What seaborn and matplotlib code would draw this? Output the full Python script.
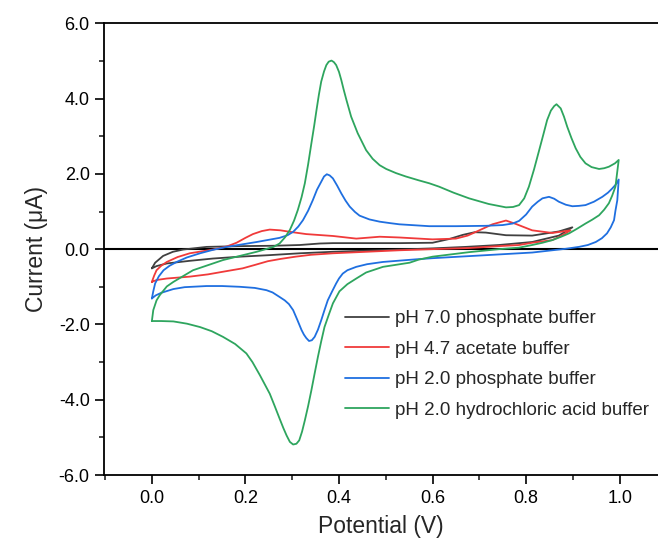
import numpy as np
import pandas as pd
import matplotlib
matplotlib.use("Agg")
import matplotlib.pyplot as plt
import seaborn as sns
from matplotlib.ticker import MultipleLocator, FormatStrFormatter

# ----------------------------------------------------------
# DATA (loop order)
# ----------------------------------------------------------
buffers = ["pH 7.0 phosphate buffer", "pH 4.7 acetate buffer",
           "pH 2.0 phosphate buffer", "pH 2.0 hydrochloric acid buffer"]
colors = ["#404040", "#f03a3a", "#1f6fe0", "#2ea55e"]

e_ph70 = [0.0, 0.007, 0.024, 0.045, 0.067, 0.117, 0.188, 0.26, 0.316, 0.359, 0.387, 0.45, 0.53,
          0.6, 0.636, 0.665, 0.69, 0.714, 0.757, 0.813, 0.87, 0.899,
          0.87, 0.813, 0.742, 0.671, 0.6, 0.529, 0.458, 0.387, 0.316, 0.25, 0.188, 0.13, 0.081,
          0.032, 0.01, 0.0]
i_ph70 = [-0.51, -0.36, -0.18, -0.07, -0.01, 0.06, 0.08, 0.09, 0.11, 0.15, 0.16, 0.16, 0.16,
          0.17, 0.27, 0.38, 0.45, 0.44, 0.37, 0.36, 0.47, 0.58,
          0.36, 0.19, 0.11, 0.06, 0.02, -0.01, -0.04, -0.07, -0.11, -0.16, -0.20, -0.25, -0.31,
          -0.38, -0.45, -0.51]

e_ph47 = [0.0, 0.005, 0.01, 0.02, 0.032, 0.055, 0.081, 0.131, 0.16, 0.181, 0.2, 0.216, 0.235,
          0.252, 0.275, 0.295, 0.33, 0.387, 0.437, 0.487, 0.529, 0.6, 0.65, 0.675, 0.693, 0.728,
          0.757, 0.778, 0.813, 0.856, 0.895,
          0.875, 0.856, 0.813, 0.785, 0.742, 0.678, 0.6, 0.529, 0.458, 0.387, 0.34, 0.307, 0.275,
          0.248, 0.22, 0.194, 0.152, 0.12, 0.081, 0.032, 0.01, 0.0]
i_ph47 = [-0.87, -0.70, -0.56, -0.44, -0.34, -0.21, -0.11, -0.01, 0.07, 0.17, 0.30, 0.40, 0.48,
          0.52, 0.50, 0.46, 0.40, 0.35, 0.28, 0.33, 0.31, 0.26, 0.28, 0.36, 0.46, 0.66,
          0.76, 0.67, 0.50, 0.43, 0.50,
          0.35, 0.24, 0.17, 0.11, 0.08, 0.03, 0.0, -0.03, -0.07, -0.11, -0.15, -0.20, -0.26,
          -0.32, -0.42, -0.51, -0.60, -0.67, -0.73, -0.78, -0.82, -0.87]

e_ph20 = [0.0, 0.003, 0.007, 0.015, 0.025, 0.038, 0.053, 0.075, 0.103, 0.13, 0.16, 0.224, 0.273,
          0.29, 0.302, 0.313, 0.323, 0.334, 0.344, 0.353, 0.362, 0.368, 0.374, 0.38, 0.387,
          0.396, 0.405, 0.414, 0.423, 0.434, 0.444, 0.465, 0.487, 0.51, 0.529, 0.593, 0.65,
          0.714, 0.75, 0.771, 0.785, 0.8, 0.813, 0.825, 0.835, 0.849, 0.86, 0.87, 0.885, 0.899,
          0.913, 0.927, 0.945, 0.963, 0.975, 0.984, 0.992, 0.998,
          0.995, 0.991, 0.988, 0.981, 0.973, 0.962, 0.949, 0.932, 0.913, 0.885, 0.856, 0.813,
          0.714, 0.671, 0.6, 0.565, 0.494, 0.46, 0.437, 0.418, 0.408, 0.4, 0.394, 0.385, 0.376,
          0.369, 0.362, 0.355, 0.348, 0.342, 0.336, 0.33, 0.325, 0.32, 0.311, 0.302, 0.293,
          0.284, 0.273, 0.258, 0.245, 0.22, 0.188, 0.15, 0.117, 0.07, 0.046, 0.02, 0.008, 0.0]
i_ph20 = [-1.31, -1.12, -0.91, -0.72, -0.56, -0.44, -0.34, -0.22, -0.11, -0.02, 0.06, 0.19, 0.30,
          0.37, 0.46, 0.60, 0.77, 1.02, 1.30, 1.58, 1.79, 1.93, 1.99, 1.96, 1.88,
          1.69, 1.48, 1.29, 1.13, 0.99, 0.89, 0.79, 0.73, 0.69, 0.66, 0.61, 0.61,
          0.62, 0.64, 0.68, 0.75, 0.92, 1.13, 1.26, 1.35, 1.39, 1.34, 1.26, 1.18, 1.14,
          1.15, 1.17, 1.26, 1.39, 1.50, 1.61, 1.72, 1.85,
          1.30, 1.02, 0.77, 0.58, 0.42, 0.29, 0.19, 0.11, 0.06, 0.01, -0.03, -0.09,
          -0.16, -0.19, -0.24, -0.27, -0.34, -0.40, -0.47, -0.56, -0.65, -0.78, -0.91, -1.13, -1.36,
          -1.62, -1.89, -2.14, -2.33, -2.42, -2.44, -2.36, -2.27, -2.15, -1.88, -1.62, -1.46,
          -1.36, -1.27, -1.15, -1.09, -1.03, -1.00, -0.98, -0.98, -1.01, -1.06, -1.16, -1.23, -1.31]

e_hcl = [0.0, 0.003, 0.01, 0.017, 0.032, 0.046, 0.088, 0.152, 0.224, 0.26, 0.273, 0.285, 0.295,
         0.304, 0.312, 0.32, 0.327, 0.334, 0.341, 0.347, 0.352, 0.357, 0.362, 0.368, 0.373,
         0.378, 0.384, 0.389, 0.394, 0.4, 0.405, 0.41, 0.416, 0.426, 0.44, 0.458, 0.472, 0.487,
         0.501, 0.522, 0.543, 0.57, 0.593, 0.614, 0.645, 0.678, 0.72, 0.757, 0.772, 0.785,
         0.796, 0.806, 0.817, 0.828, 0.837, 0.845, 0.853, 0.86, 0.865, 0.874, 0.881, 0.888,
         0.897, 0.906, 0.916, 0.927, 0.94, 0.956, 0.967, 0.977, 0.99, 0.998,
         0.991, 0.984, 0.977, 0.967, 0.956, 0.941, 0.927, 0.91, 0.892, 0.875, 0.856, 0.835,
         0.813, 0.785, 0.742, 0.678, 0.6, 0.57, 0.551, 0.494, 0.458, 0.437, 0.418, 0.401,
         0.387, 0.378, 0.369, 0.362, 0.355, 0.348, 0.341, 0.334, 0.327, 0.321, 0.315, 0.309,
         0.302, 0.295, 0.288, 0.281, 0.273, 0.262, 0.252, 0.231, 0.215, 0.202, 0.178, 0.152,
         0.128, 0.103, 0.075, 0.046, 0.02, 0.0]
i_hcl = [-1.91, -1.62, -1.36, -1.22, -0.99, -0.87, -0.56, -0.29, -0.07, 0.06, 0.15, 0.32, 0.51,
         0.76, 1.04, 1.38, 1.75, 2.25, 2.81, 3.28, 3.70, 4.10, 4.45, 4.72, 4.89,
         4.98, 5.01, 4.97, 4.89, 4.71, 4.49, 4.24, 3.96, 3.52, 3.08, 2.63, 2.40, 2.23,
         2.13, 2.02, 1.93, 1.83, 1.75, 1.66, 1.50, 1.35, 1.20, 1.11, 1.12, 1.17,
         1.35, 1.66, 2.12, 2.63, 3.05, 3.43, 3.68, 3.80, 3.85, 3.74, 3.52, 3.25,
         2.95, 2.68, 2.45, 2.28, 2.18, 2.13, 2.15, 2.19, 2.28, 2.37,
         1.66, 1.42, 1.22, 1.05, 0.90, 0.78, 0.68, 0.55, 0.42, 0.33, 0.24, 0.17,
         0.11, 0.04, 0.0, -0.08, -0.20, -0.28, -0.36, -0.47, -0.62, -0.78, -0.93, -1.12,
         -1.44, -1.75, -2.07, -2.45, -2.86, -3.30, -3.75, -4.17, -4.55, -4.85, -5.08, -5.17,
         -5.19, -5.12, -4.95, -4.75, -4.50, -4.15, -3.84, -3.35, -3.00, -2.77, -2.52, -2.33,
         -2.18, -2.07, -1.98, -1.92, -1.91, -1.91]

potentials = [e_ph70, e_ph47, e_ph20, e_hcl]
currents = [i_ph70, i_ph47, i_ph20, i_hcl]

frames = []
for name, e, i in zip(buffers, potentials, currents):
    frames.append(pd.DataFrame({"Potential": e, "Current": i, "Buffer": name}))
df = pd.concat(frames, ignore_index=True)

# ----------------------------------------------------------
# PLOT
# ----------------------------------------------------------
sns.set_style("ticks")
plt.rcParams["font.family"] = ["Liberation Sans", "DejaVu Sans"]

fig, ax = plt.subplots(figsize=(6.58, 5.45), dpi=100)
fig.subplots_adjust(left=104.3 / 658, right=1.0, bottom=1 - 475 / 545, top=1 - 23.3 / 545)

ax.axhline(0, color="black", lw=1.5, zorder=1)

sns.lineplot(data=df, x="Potential", y="Current", hue="Buffer", hue_order=buffers,
             palette=dict(zip(buffers, colors)), sort=False, estimator=None,
             lw=1.3, ax=ax, zorder=2)

ax.set_xlim(-0.1017, 1.082)
ax.set_ylim(-6, 6)
ax.xaxis.set_major_locator(MultipleLocator(0.2))
ax.xaxis.set_minor_locator(MultipleLocator(0.1))
ax.yaxis.set_major_locator(MultipleLocator(2))
ax.yaxis.set_minor_locator(MultipleLocator(1))
ax.xaxis.set_major_formatter(FormatStrFormatter("%.1f"))
ax.yaxis.set_major_formatter(FormatStrFormatter("%.1f"))

ax.tick_params(which="major", direction="out", length=6.5, width=1.2, labelsize=13,
               colors="black", pad=4, top=False, right=False)
ax.tick_params(which="minor", direction="out", length=3.5, width=1.2, top=False, right=False)

for side in ["left", "bottom", "top"]:
    ax.spines[side].set_linewidth(1.3)
    ax.spines[side].set_color("black")
ax.spines["right"].set_visible(False)

ax.set_xlabel("Potential (V)", fontsize=16.5, labelpad=6)
ax.set_ylabel("Current (μA)", fontsize=16.5, labelpad=8)

handles, labels = ax.get_legend_handles_labels()
ax.legend(handles, labels, loc="center left", bbox_to_anchor=(0.435, 0.245),
          frameon=False, fontsize=13.5, handlelength=2.35, handletextpad=0.3,
          labelspacing=0.71, borderpad=0, borderaxespad=0)

plt.savefig("out.png", dpi=100)
